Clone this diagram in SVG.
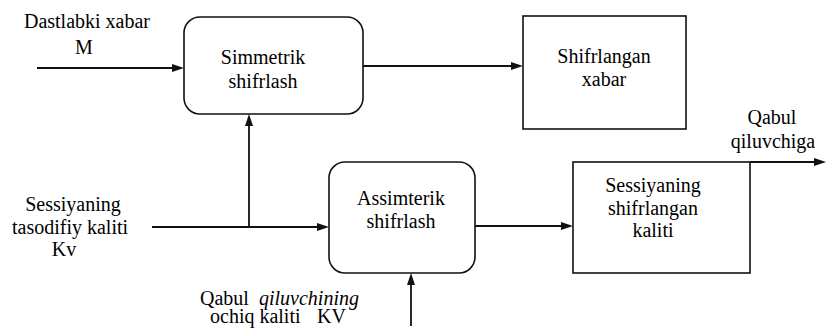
<svg xmlns="http://www.w3.org/2000/svg" width="827" height="329" viewBox="0 0 827 329">
<rect width="827" height="329" fill="#fff"/>
<g id="connectors" stroke="#111" stroke-width="1.8" fill="#111">
<line x1="37" y1="68" x2="174" y2="68"/>
<polygon stroke="none" points="184,68 172,64 172,72"/>
<line x1="363" y1="66" x2="513" y2="66"/>
<polygon stroke="none" points="523,66 511,62 511,70"/>
<line x1="152" y1="227" x2="319" y2="227"/>
<polygon stroke="none" points="329,227 317,223 317,231"/>
<line x1="249" y1="227" x2="249" y2="124"/>
<polygon stroke="none" points="249,114 245,126 253,126"/>
<line x1="475" y1="226" x2="563" y2="226"/>
<polygon stroke="none" points="573,226 561,222 561,230"/>
<line x1="411" y1="326" x2="411" y2="283"/>
<polygon stroke="none" points="411,273 407,285 415,285"/>
<line x1="750" y1="162" x2="816" y2="162"/>
<polygon stroke="none" points="826,162 814,158 814,166"/>
</g>
<g id="input-m">
<text x="87" y="28" font-family="Liberation Serif" font-size="20" text-anchor="middle">Dastlabki xabar</text>
<text x="84" y="54" font-family="Liberation Serif" font-size="20" text-anchor="middle">M</text>
</g>
<g id="input-kv">
<text x="73" y="211" font-family="Liberation Serif" font-size="20" text-anchor="middle">Sessiyaning</text>
<text x="70" y="234" font-family="Liberation Serif" font-size="20" text-anchor="middle">tasodifiy kaliti</text>
<text x="64" y="256" font-family="Liberation Serif" font-size="20" text-anchor="middle">Kv</text>
</g>
<g id="input-kv-public">
<text x="200" y="305" font-family="Liberation Serif" font-size="20">Qabul</text>
<text x="259" y="305" font-family="Liberation Serif" font-size="20" font-style="italic">qiluvchining</text>
<text x="210" y="323" font-family="Liberation Serif" font-size="20">ochiq kaliti</text>
<text x="317" y="323" font-family="Liberation Serif" font-size="20">KV</text>
</g>
<g id="output-label">
<text x="772" y="124" font-family="Liberation Serif" font-size="20" text-anchor="middle">Qabul</text>
<text x="773" y="148" font-family="Liberation Serif" font-size="20" text-anchor="middle">qiluvchiga</text>
</g>
<g id="simmetrik">
<rect x="184" y="17" width="179" height="97" rx="16" fill="#fff" stroke="#111" stroke-width="1.6"/>
<text x="263" y="64" font-family="Liberation Serif" font-size="20" text-anchor="middle">Simmetrik</text>
<text x="263" y="88" font-family="Liberation Serif" font-size="20" text-anchor="middle">shifrlash</text>
</g>
<g id="shifrlangan-xabar">
<rect x="523" y="16" width="163" height="113" fill="#fff" stroke="#111" stroke-width="1.6"/>
<text x="604" y="63" font-family="Liberation Serif" font-size="20" text-anchor="middle">Shifrlangan</text>
<text x="604" y="86" font-family="Liberation Serif" font-size="20" text-anchor="middle">xabar</text>
</g>
<g id="assimterik">
<rect x="329" y="162" width="146" height="111" rx="16" fill="#fff" stroke="#111" stroke-width="1.6"/>
<text x="401" y="205" font-family="Liberation Serif" font-size="20" text-anchor="middle">Assimterik</text>
<text x="401" y="228" font-family="Liberation Serif" font-size="20" text-anchor="middle">shifrlash</text>
</g>
<g id="sessiya-kaliti">
<rect x="573" y="162" width="177" height="111" fill="#fff" stroke="#111" stroke-width="1.6"/>
<text x="653" y="192" font-family="Liberation Serif" font-size="20" text-anchor="middle">Sessiyaning</text>
<text x="653" y="215" font-family="Liberation Serif" font-size="20" text-anchor="middle">shifrlangan</text>
<text x="653" y="237" font-family="Liberation Serif" font-size="20" text-anchor="middle">kaliti</text>
</g>
</svg>
